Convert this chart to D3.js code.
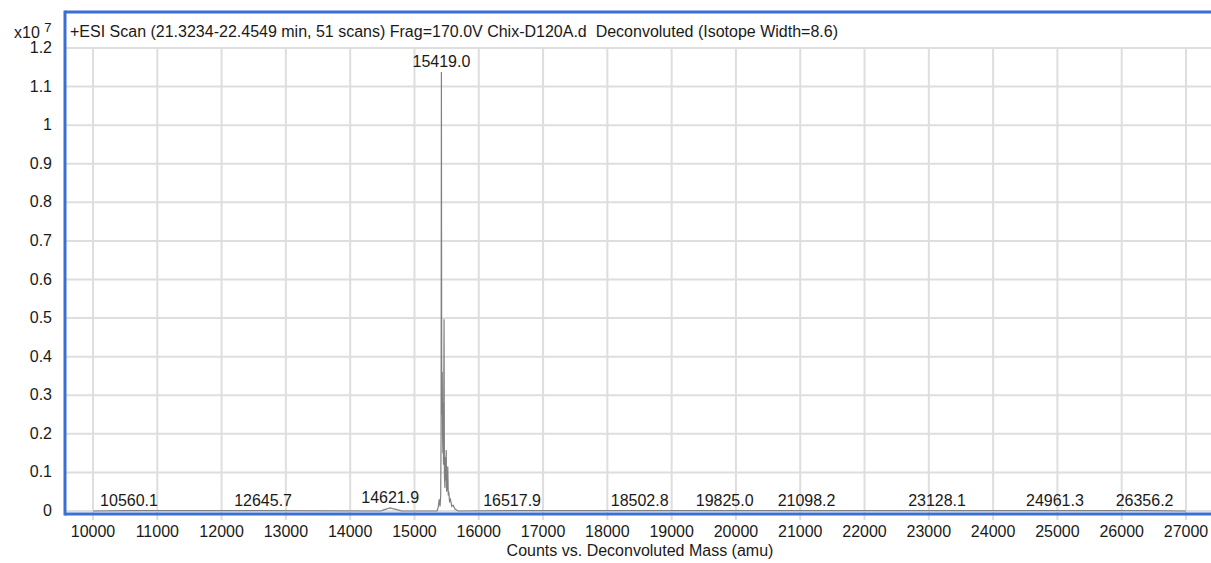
<!DOCTYPE html>
<html>
<head>
<meta charset="utf-8">
<script src="https://cdn.jsdelivr.net/npm/d3@7"></script>
<style>
  body { margin: 0; background: #fff; }
  svg { display: block; font-family: "Liberation Sans", Arial, sans-serif; }
  .grid line { stroke: #dedede; stroke-width: 2; }
  .lbl { font-size: 16px; fill: #1a1a1a; }
</style>
</head>
<body>
<svg class="chart"></svg>
<script>
// chart values (intensity in units of 1e7 counts)
var titleText = "+ESI Scan (21.3234-22.4549 min, 51 scans) Frag=170.0V Chix-D120A.d  Deconvoluted (Isotope Width=8.6)";
var xTicks = [10000, 11000, 12000, 13000, 14000, 15000, 16000, 17000, 18000, 19000, 20000, 21000, 22000, 23000, 24000, 25000, 26000, 27000];
var yTicks = [0, 0.1, 0.2, 0.3, 0.4, 0.5, 0.6, 0.7, 0.8, 0.9, 1, 1.1, 1.2];
var peakMasses = [10560.1, 12645.7, 14621.9, 15419.0, 16517.9, 18502.8, 19825.0, 21098.2, 23128.1, 24961.3, 26356.2];
var peakHeights = [0.001, 0.001, 0.008, 1.138, 0.001, 0.001, 0.001, 0.001, 0.001, 0.001, 0.001];

// spectrum trace
var specMass = [10000, 10560, 12645, 14480, 14520, 14560, 14600, 14622, 14660, 14700, 14740, 14800,
  15350, 15370, 15385, 15398, 15408, 15414, 15419, 15423, 15428, 15432, 15437, 15442, 15446, 15452,
  15460, 15466, 15474, 15480, 15486, 15494, 15500, 15510, 15518, 15526, 15534, 15545, 15560, 15580,
  15600, 15630, 15680, 16518, 18503, 19825, 21098, 23128, 24961, 26356, 27000];
var specInt = [0, 0.001, 0.001, 0, 0.003, 0.005, 0.007, 0.008, 0.006, 0.005, 0.003, 0,
  0, 0.01, 0.03, 0.012, 0.04, 0.2, 1.138, 0.387, 0.25, 0.36, 0.2, 0.15, 0.28, 0.12,
  0.497, 0.09, 0.06, 0.14, 0.08, 0.158, 0.05, 0.06, 0.115, 0.04, 0.05, 0.025, 0.03, 0.012,
  0.015, 0.005, 0, 0.001, 0.001, 0.001, 0.001, 0.001, 0.001, 0.001, 0];

var W = 1211, H = 563;
var frameL = 65, frameT = 12, plotT = 48, zeroY = 511, axisY = 514;

var svg = d3.select('.chart').attr('width', W).attr('height', H);

var x = d3.scaleLinear().domain([10000, 27000]).range([93, 1186]);
var y = d3.scaleLinear().domain([0, 1.2]).range([zeroY, plotT]);

// grid
var grid = svg.append('g').attr('class', 'grid');
grid.selectAll('.hg').data(yTicks).enter().append('line')
  .attr('x1', frameL).attr('x2', W)
  .attr('y1', function(d) { return y(d); }).attr('y2', function(d) { return y(d); });
grid.selectAll('.vg').data(xTicks).enter().append('line')
  .attr('x1', function(d) { return x(d); }).attr('x2', function(d) { return x(d); })
  .attr('y1', plotT).attr('y2', axisY + 6);

// spectrum
var pts = specMass.map(function(m, i) { return [m, specInt[i]]; });
svg.append('path')
  .datum(pts)
  .attr('fill', 'none')
  .attr('stroke', '#808080')
  .attr('stroke-width', 1.2)
  .attr('d', d3.line().x(function(d) { return x(d[0]); }).y(function(d) { return y(d[1]); }));

// frame
svg.append('line').attr('x1', frameL).attr('x2', W).attr('y1', frameT).attr('y2', frameT)
  .attr('stroke', '#3a6fd3').attr('stroke-width', 3);
svg.append('line').attr('x1', frameL).attr('x2', frameL).attr('y1', frameT - 1.5).attr('y2', axisY + 1.5)
  .attr('stroke', '#3a6fd3').attr('stroke-width', 3);
svg.append('line').attr('x1', frameL).attr('x2', W).attr('y1', axisY).attr('y2', axisY)
  .attr('stroke', '#3a6fd3').attr('stroke-width', 3);

// title
svg.append('text').attr('class', 'lbl')
  .attr('x', 70).attr('y', 37)
  .attr('xml:space', 'preserve').style('white-space', 'pre')
  .text(titleText);

// y axis labels
svg.selectAll('.yl').data(yTicks).enter().append('text')
  .attr('class', 'lbl')
  .attr('x', 52).attr('y', function(d) { return y(d) + 5; })
  .attr('text-anchor', 'end')
  .text(function(d) { return d; });
var mult = svg.append('text').attr('class', 'lbl').attr('x', 14).attr('y', 38);
mult.append('tspan').text('x10 ');
mult.append('tspan').attr('dy', -6).style('font-size', '13px').text('7');

// x axis labels
svg.selectAll('.xl').data(xTicks).enter().append('text')
  .attr('class', 'lbl')
  .attr('x', function(d) { return x(d); }).attr('y', 537)
  .attr('text-anchor', 'middle')
  .text(function(d) { return d; });
svg.append('text').attr('class', 'lbl')
  .attr('x', 640).attr('y', 556)
  .attr('text-anchor', 'middle')
  .text('Counts vs. Deconvoluted Mass (amu)');

// peak labels
svg.selectAll('.pl').data(peakMasses).enter().append('text')
  .attr('class', 'lbl')
  .attr('x', function(d) { return x(d); })
  .attr('y', function(d, i) { return y(peakHeights[i]) - 5; })
  .attr('text-anchor', 'middle')
  .text(function(d) { return d.toFixed(1); });
</script>
</body>
</html>
